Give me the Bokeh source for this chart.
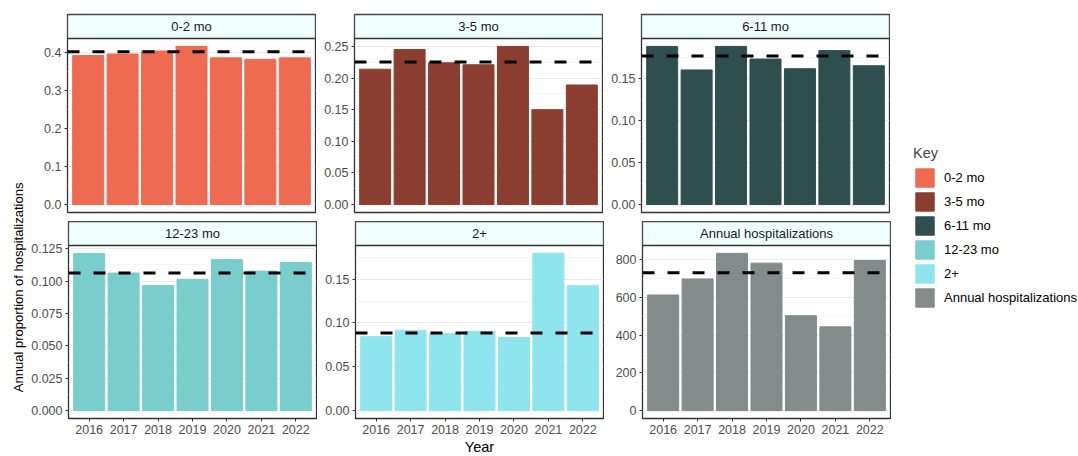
from math import pi
from bokeh.plotting import figure
from bokeh.layouts import row, column
from bokeh.models import (Range1d, FixedTicker, Span, BoxAnnotation, Label,
                          Legend, LegendItem, NumeralTickFormatter)
from bokeh.embed import file_html
from bokeh.resources import INLINE

# ---------------- data ----------------
years = [2016, 2017, 2018, 2019, 2020, 2021, 2022]
panels = ["0-2 mo", "3-5 mo", "6-11 mo", "12-23 mo", "2+", "Annual hospitalizations"]
colors = ["#EE6A50", "#8B3E2F", "#2F4F4F", "#79CDCD", "#8EE5EE", "#838B8B"]

v_0_2 = [0.391, 0.395, 0.403, 0.415, 0.385, 0.381, 0.385]
v_3_5 = [0.214, 0.245, 0.224, 0.221, 0.250, 0.150, 0.189]
v_6_11 = [0.188, 0.160, 0.188, 0.173, 0.1615, 0.183, 0.165]
v_12_23 = [0.1214, 0.1062, 0.0965, 0.1014, 0.1166, 0.1077, 0.1143]
v_2plus = [0.0844, 0.0916, 0.0878, 0.0905, 0.0833, 0.1794, 0.1425]
v_annual = [614, 699, 835, 783, 504, 445, 797]
series = [v_0_2, v_3_5, v_6_11, v_12_23, v_2plus, v_annual]

means = [0.401, 0.2253, 0.1765, 0.1062, 0.0886, 732]

yticks = [
    [0.0, 0.1, 0.2, 0.3, 0.4],
    [0.0, 0.05, 0.10, 0.15, 0.20, 0.25],
    [0.0, 0.05, 0.10, 0.15],
    [0.0, 0.025, 0.05, 0.075, 0.10, 0.125],
    [0.0, 0.05, 0.10, 0.15],
    [0, 200, 400, 600, 800],
]
yformats = ["0.0", "0.00", "0.00", "0.000", "0.00", "0"]

# ---------------- style ----------------
FONT = "Liberation Sans"
FRAME_W = 248
STRIP_H = 24
TOTAL_H = 456


def make_panel(i, bottom_row, left_border, frame_h, xlabel=None):
    vals = series[i]
    m = max(max(vals), means[i])
    lo = -0.05 * m
    hi = 1.05 * m
    top = lo + (hi - lo) * frame_h / (frame_h - STRIP_H)
    p = figure(frame_width=FRAME_W, frame_height=frame_h,
               x_range=Range1d(2015.4, 2022.6), y_range=Range1d(lo, top),
               output_backend="svg", toolbar_location=None,
               min_border_left=left_border, min_border_right=1,
               min_border_top=0 if bottom_row else 14,
               min_border_bottom=9 if not bottom_row else 20)
    p.background_fill_color = "white"
    p.border_fill_color = "white"
    p.outline_line_color = "#333333"
    p.outline_line_width = 1.3

    tk = yticks[i]
    step = tk[1] - tk[0]
    minors = [t + step / 2 for t in tk]
    p.yaxis.ticker = FixedTicker(ticks=tk, minor_ticks=minors)
    p.yaxis.formatter = NumeralTickFormatter(format=yformats[i])
    p.xgrid.visible = False
    p.ygrid.grid_line_color = "#EBEBEB"
    p.ygrid.grid_line_width = 1
    p.ygrid.minor_grid_line_color = "#F2F2F2"
    p.ygrid.minor_grid_line_width = 0.7

    for ax in [p.yaxis[0], p.xaxis[0]]:
        ax.axis_line_color = None
        ax.major_tick_line_color = "#333333"
        ax.major_tick_out = 3
        ax.major_tick_in = 0
        ax.minor_tick_out = 0
        ax.minor_tick_in = 0
        ax.major_label_text_font = FONT
        ax.major_label_text_font_size = "12.5px"
        ax.major_label_text_color = "#4D4D4D"
        ax.major_label_standoff = 3

    p.xaxis.ticker = FixedTicker(ticks=years)
    if not bottom_row:
        p.xaxis.visible = False
    if xlabel:
        p.xaxis.axis_label = xlabel
        p.xaxis.axis_label_text_font = FONT
        p.xaxis.axis_label_text_font_size = "14.5px"
        p.xaxis.axis_label_text_font_style = "normal"
        p.xaxis.axis_label_text_color = "black"
        p.xaxis.axis_label_standoff = 2

    p.vbar(x=years, top=vals, bottom=0, width=0.9,
           fill_color=colors[i], fill_alpha=1,
           line_color=colors[i], line_width=1)

    p.add_layout(Span(location=means[i], dimension="width", line_color="black",
                      line_width=3, line_dash="12 13"))
    p.add_layout(BoxAnnotation(bottom=hi, fill_color="#F0FFFF", fill_alpha=1,
                               line_color="#333333", line_alpha=1,
                               line_width=1.3))
    p.add_layout(Label(x=2019, y=(hi + top) / 2, text=panels[i],
                       text_align="center", text_baseline="middle",
                       text_font=FONT, text_font_size="13px",
                       text_color="#1A1A1A"))
    return p


f1 = make_panel(0, False, 39, 198)
f2 = make_panel(1, False, 38, 198)
f3 = make_panel(2, False, 38, 198)
f4 = make_panel(3, True, 39, 197)
f5 = make_panel(4, True, 38, 197, "Year")
f6 = make_panel(5, True, 38, 197)

# y-axis title
yt = figure(width=28, height=TOTAL_H, x_range=Range1d(0, 28),
            y_range=Range1d(0, TOTAL_H), output_backend="svg",
            toolbar_location=None, min_border=0,
            x_axis_location=None, y_axis_location=None)
yt.grid.visible = False
yt.outline_line_color = None
yt.add_layout(Label(x=18, y=TOTAL_H - 208,
                    text="Annual proportion of hospitalizations",
                    angle=pi / 2, text_align="center", text_baseline="middle",
                    text_font=FONT, text_font_size="13px", text_color="black"))

# legend panel
lf = figure(width=188, height=TOTAL_H, x_range=Range1d(0, 1), y_range=Range1d(0, 1),
            output_backend="svg", toolbar_location=None,
            min_border_left=22, min_border_top=145, min_border_right=0,
            min_border_bottom=0, x_axis_location=None, y_axis_location=None)
lf.grid.visible = False
lf.outline_line_color = None
items = []
for name, c in zip(panels, colors):
    r = lf.vbar(x=[5], top=[5], width=1, fill_color=c, fill_alpha=1,
                line_color=c, line_width=1)
    items.append(LegendItem(label=name, renderers=[r]))
leg = Legend(items=items, location="top_left", margin=0, padding=0,
             border_line_color=None, background_fill_alpha=0,
             title="Key", title_text_font=FONT, title_text_font_size="14.5px",
             title_text_font_style="normal", title_standoff=5,
             glyph_width=23, glyph_height=23, label_height=23, spacing=1,
             label_standoff=8, label_text_font=FONT,
             label_text_font_size="13px", label_text_color="black")
lf.add_layout(leg)

layout = row(yt, column(row(f1, f2, f3), row(f4, f5, f6)), lf)

open("out.html", "w").write(file_html(layout, INLINE))
